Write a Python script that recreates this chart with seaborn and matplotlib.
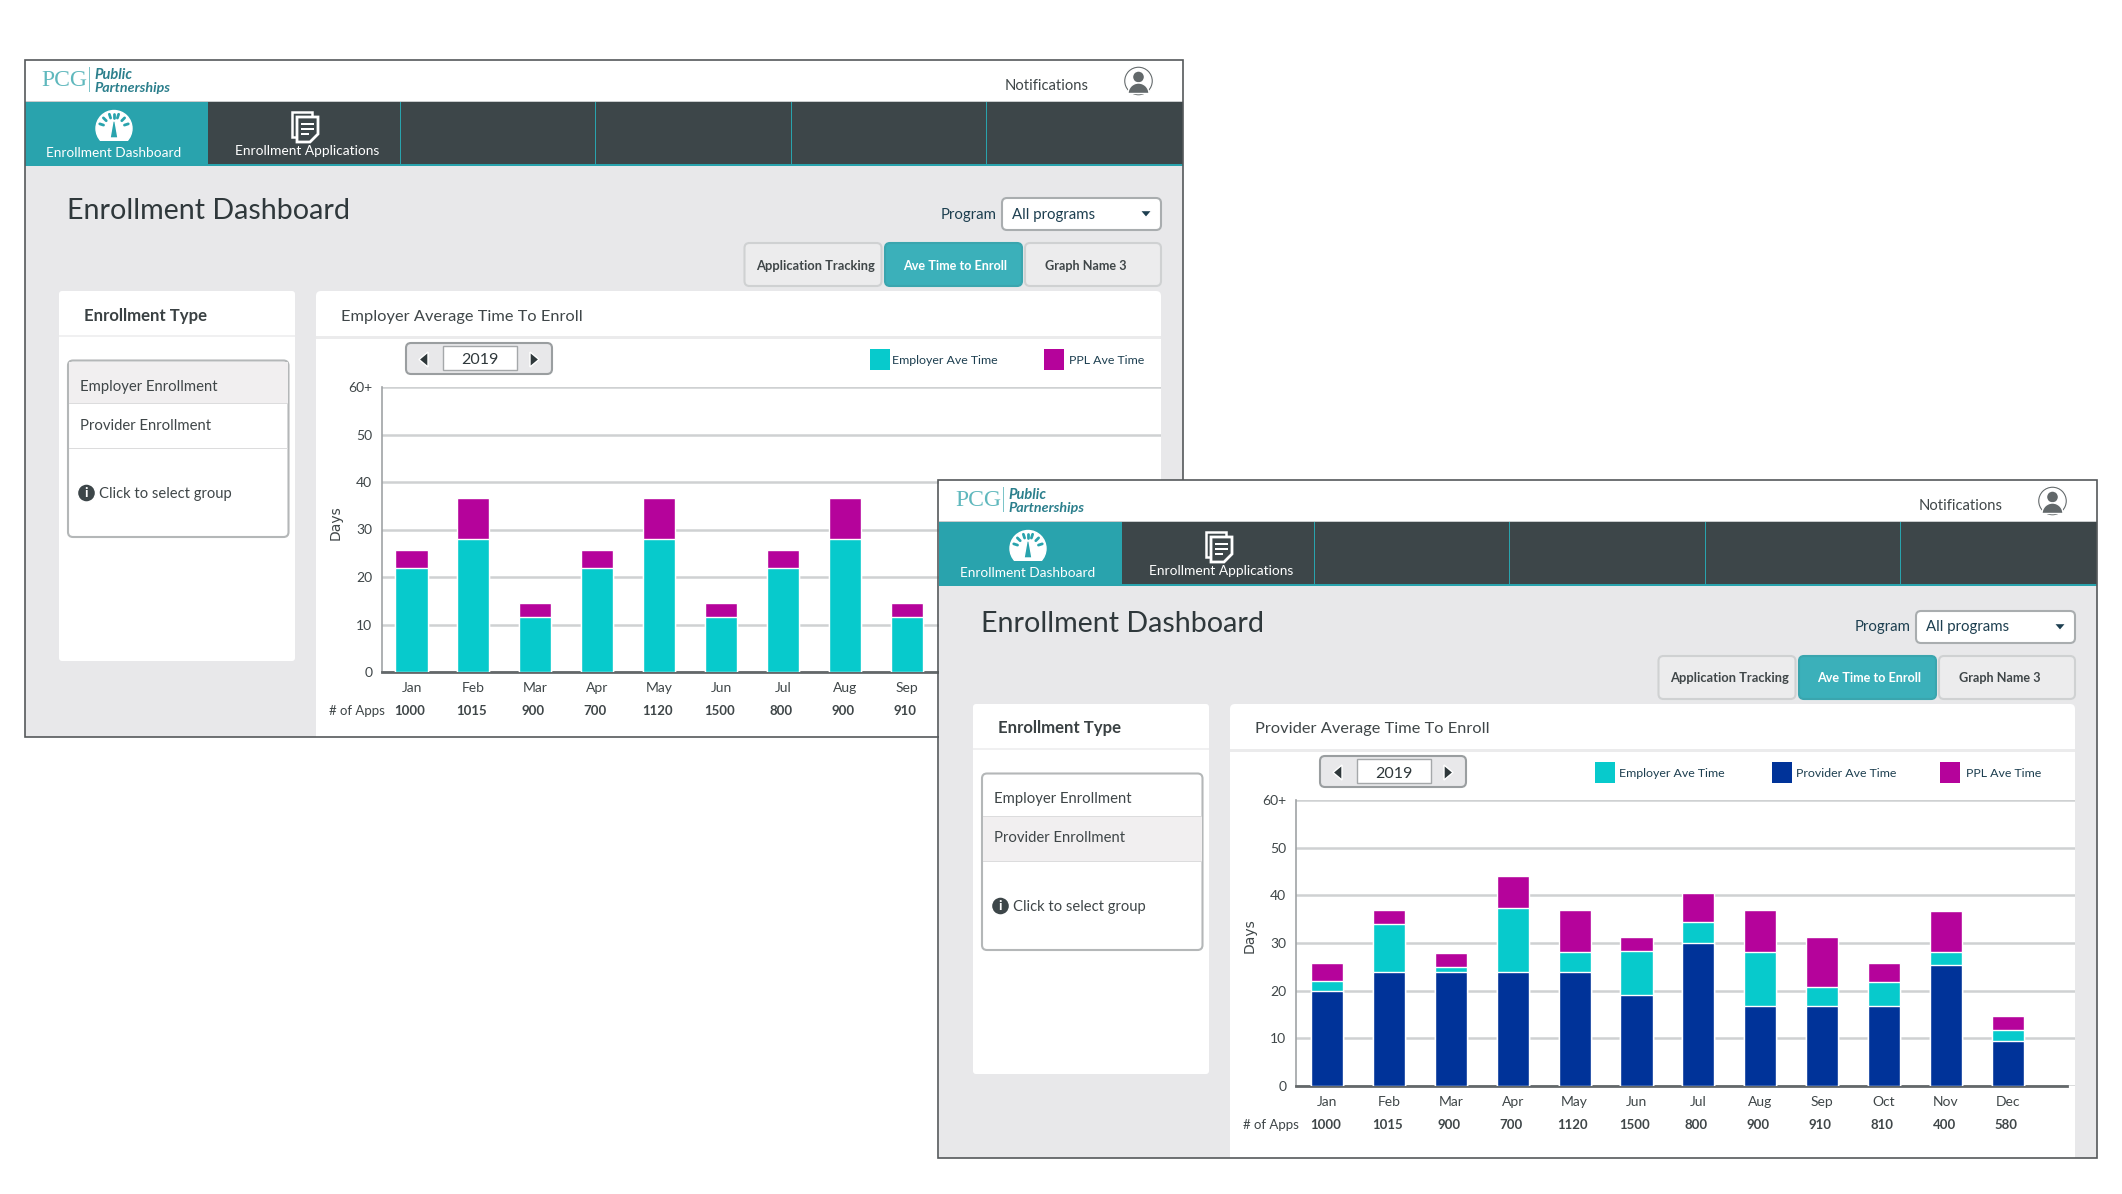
import numpy as np
import seaborn as sns
import matplotlib.pyplot as plt
from matplotlib.patches import Rectangle, FancyBboxPatch, Circle, Polygon, Wedge

W, H = 2122, 1194
FONT = 'Lato'
TEAL = '#29a3ad'
TAB_TEAL = '#3bb0ba'
DARK = '#3d4649'
BODY = '#e8e8ea'
TEXT = '#3f4648'
CYAN = '#07cacc'
NAVY = '#003399'
PURPLE = '#b5039b'

MONTHS = ['Jan', 'Feb', 'Mar', 'Apr', 'May', 'Jun', 'Jul', 'Aug', 'Sep', 'Oct', 'Nov', 'Dec']
APPS = [1000, 1015, 900, 700, 1120, 1500, 800, 900, 910, 810, 400, 580]

# first window, only Jan to Sep can be seen
EMP1_EMPLOYER = [21.8, 28.1, 11.6, 21.8, 28.1, 11.6, 21.8, 28.1, 11.6]
EMP1_PPL = [3.8, 8.6, 3.0, 3.8, 8.6, 3.0, 3.8, 8.6, 3.0]

# second window
PROV_PROVIDER = [20.0, 24.0, 24.0, 24.0, 24.0, 19.0, 30.0, 16.7, 16.7, 16.7, 25.4, 9.5]
PROV_EMPLOYER = [2.0, 10.0, 1.0, 13.4, 4.1, 9.4, 4.4, 11.4, 4.0, 5.2, 2.7, 2.2]
PROV_PPL = [3.7, 3.0, 3.0, 6.7, 8.8, 2.9, 6.0, 8.8, 10.6, 3.8, 8.7, 3.0]

YTICKS = [0, 10, 20, 30, 40, 50, 60]
YLABELS = ['0', '10', '20', '30', '40', '50', '60+']


def px_axes(fig, z):
    ax = fig.add_axes([0, 0, 1, 1])
    ax.set_xlim(0, W)
    ax.set_ylim(H, 0)
    ax.axis('off')
    ax.set_zorder(z)
    return ax


def rect(ax, x0, y0, x1, y1, fc, ec='none', lw=0):
    ax.add_patch(Rectangle((x0, y0), x1 - x0, y1 - y0, fc=fc, ec=ec, lw=lw))


def rrect(ax, x0, y0, x1, y1, fc, ec='none', lw=0, r=5):
    ax.add_patch(FancyBboxPatch((x0 + r, y0 + r), x1 - x0 - 2 * r, y1 - y0 - 2 * r,
                                boxstyle=f'round,pad={r},rounding_size={r}',
                                fc=fc, ec=ec, lw=lw))


def txt(ax, x, y, s, size=10, color=TEXT, ha='left', **kw):
    ax.text(x, y, s, fontsize=size, color=color, ha=ha, va='center', family=FONT, **kw)


def draw_icons(ax, dx, h):
    # avatar
    ax.add_patch(Circle((1138.5 + dx, 81 + h), 15, fc='#62686a'))
    ax.add_patch(Circle((1138.5 + dx, 81 + h), 12.5, fc='white'))
    ax.add_patch(Circle((1138.5 + dx, 77 + h), 6, fc='#62686a'))
    # y axis runs downward here, so 180-360 is the upper half
    ax.add_patch(Wedge((1138.5 + dx, 93.5 + h), 10.5, 180, 360, fc='#62686a'))
    # gauge
    ax.add_patch(Circle((114 + dx, 128.5 + h), 18, fc='white'))
    rect(ax, 95 + dx, 141 + h, 133 + dx, 148 + h, TEAL)
    ax.add_patch(Polygon([(113 + dx, 121 + h), (115 + dx, 121 + h), (118 + dx, 138 + h),
                          (110 + dx, 138 + h)], fc=TEAL))
    for a in np.radians([18, 45, 72, 90, 108, 135, 162]):
        ax.plot([114 + dx + 11 * np.cos(a), 114 + dx + 15 * np.cos(a)],
                [128.5 + h - 11 * np.sin(a), 128.5 + h - 15 * np.sin(a)], color=TEAL, lw=2)
    # document
    rect(ax, 292 + dx, 112 + h, 312 + dx, 137 + h, DARK, 'white', 1.8)
    ax.add_patch(Polygon([(297 + dx, 117 + h), (318 + dx, 117 + h), (318 + dx, 134 + h),
                          (310 + dx, 142 + h), (297 + dx, 142 + h)], fc=DARK, ec='white', lw=2))
    for ly, lx in [(123, 314), (128, 314), (133, 309)]:
        rect(ax, 301 + dx, ly + h, lx + dx, ly + 1.6 + h, 'white')


def draw_window(ax, dx, top, bottom, dy, selected, title, legend):
    x0, x1 = 24.5 + dx, 1183 + dx
    # white base, header band and nav
    rect(ax, x0, top, x1, bottom, 'white')
    h = top - 60
    rect(ax, x0, 101.5 + h, x1, 165 + h, DARK)
    rect(ax, x0, 101.5 + h, 208 + dx, 165 + h, TEAL)
    rect(ax, x0, 164 + h, x1, 166 + h, TEAL)
    rect(ax, x0, 100.5 + h, x1, 102 + h, '#c9cccd')
    for sx in [400, 595, 791, 986]:
        rect(ax, sx + dx, 101.5 + h, sx + dx + 1, 165 + h, TEAL)
    rect(ax, x0, 166 + h, x1, bottom, BODY)

    # logo
    ax.text(41 + dx, 81 + h, 'PCG', fontsize=17, color='#5fb8bd', family='Liberation Serif', va='center')
    rect(ax, 89.2 + dx, 67 + h, 90.2 + dx, 92 + h, '#7cc4c9')
    txt(ax, 94 + dx, 75 + h, 'Public', 10.5, '#2b7f8c', style='italic', weight='bold')
    txt(ax, 94 + dx, 88 + h, 'Partnerships', 10.3, '#2b7f8c', style='italic', weight='bold')
    txt(ax, 1005 + dx, 85.5 + h, 'Notifications', 10.6)

    draw_icons(ax, dx, h)
    txt(ax, 113.5 + dx, 153 + h, 'Enrollment Dashboard', 9.8, 'white', ha='center')
    txt(ax, 307.5 + dx, 151 + h, 'Enrollment Applications', 9.9, 'white', ha='center')

    # page heading, program selector, tabs
    txt(ax, 67 + dx, 211 + dy, 'Enrollment Dashboard', 20.6, '#2f383b')
    txt(ax, 941 + dx, 214.5 + dy, 'Program', 10.8, '#1d3f50')
    rrect(ax, 1002 + dx, 198 + dy, 1161 + dx, 230 + dy, 'white', '#a9adaf', 1.5)
    txt(ax, 1012 + dx, 214.5 + dy, 'All programs', 10.8, '#1d3f50')
    ax.add_patch(Polygon([(1140 + dx, 210.5 + dy), (1152 + dx, 210.5 + dy), (1146 + dx, 217.5 + dy)], fc='#1d3f50'))
    rrect(ax, 744.5 + dx, 243 + dy, 881.5 + dx, 286 + dy, '#ececed', '#cfd1d2', 1.5)
    rrect(ax, 885 + dx, 243 + dy, 1022 + dx, 286 + dy, TAB_TEAL, '#3aa5ae', 1.5)
    rrect(ax, 1025 + dx, 243 + dy, 1161 + dx, 286 + dy, '#ececed', '#cfd1d2', 1.5)
    txt(ax, 816 + dx, 265.5 + dy, 'Application Tracking', 9.3, ha='center', weight='bold')
    txt(ax, 955 + dx, 265.5 + dy, 'Ave Time to Enroll', 9.1, 'white', ha='center', weight='bold')
    txt(ax, 1086 + dx, 265.5 + dy, 'Graph Name 3', 9.1, ha='center', weight='bold')

    # left panel
    rrect(ax, 59 + dx, 291 + dy, 295 + dx, 661 + dy, 'white', r=3)
    rect(ax, 59 + dx, 335 + dy, 295 + dx, 337 + dy, '#f0f0f1')
    txt(ax, 84 + dx, 315.5 + dy, 'Enrollment Type', 12.1, '#3a4143', weight='bold')
    rrect(ax, 68 + dx, 360.5 + dy, 288.5 + dx, 537 + dy, 'white', '#b4b7b8', 1.5)
    row = (361.5, 403.5) if selected == 0 else (403.5, 448.5)
    rect(ax, 69 + dx, row[0] + dy, 287.5 + dx, row[1] + dy, '#f1eff0')
    rect(ax, 69 + dx, 403 + dy, 287.5 + dx, 404 + dy, '#dcdcdd')
    rect(ax, 69 + dx, 448 + dy, 287.5 + dx, 449 + dy, '#dcdcdd')
    txt(ax, 80 + dx, 386.5 + dy, 'Employer Enrollment', 10.7)
    txt(ax, 80 + dx, 425.5 + dy, 'Provider Enrollment', 10.7)
    ax.add_patch(Circle((86.5 + dx, 493 + dy), 9, fc=DARK))
    txt(ax, 86.5 + dx, 493 + dy, 'i', 10, 'white', ha='center', weight='bold')
    txt(ax, 99 + dx, 494 + dy, 'Click to select group', 10.6)

    # chart panel
    rrect(ax, 316 + dx, 291 + dy, 1161 + dx, bottom + 6, 'white', r=5)
    rect(ax, 316 + dx, 336 + dy, 1161 + dx, 339 + dy, '#ebebec')
    txt(ax, 341 + dx, 316.5 + dy, title, 11.8)
    rrect(ax, 406 + dx, 343 + dy, 552 + dx, 374 + dy, BODY, '#9a9ea0', 1.5)
    rect(ax, 443 + dx, 346 + dy, 516.5 + dx, 370 + dy, 'white', '#a5a8aa', 1)
    txt(ax, 480 + dx, 360.5 + dy, '2019', 11.5, '#2f383b', ha='center')
    ax.add_patch(Polygon([(428 + dx, 352 + dy), (428 + dx, 367 + dy), (419 + dx, 359.5 + dy)], fc='#2f383b'))
    ax.add_patch(Polygon([(530 + dx, 352 + dy), (530 + dx, 367 + dy), (539 + dx, 359.5 + dy)], fc='#2f383b'))
    for lx, tx, color, label in legend:
        rect(ax, lx, 349 + dy, lx + 20, 370 + dy, color)
        txt(ax, tx, 360.5 + dy, label, 8.9, '#1d3f50')


def draw_chart(fig, left, right, y60, y0, jan_x, end_x, z, months, apps, series):
    step = 61.9
    ax = fig.add_axes([left / W, 1 - y0 / H, (right - left) / W, (y0 - y60) / H])
    ax.set_zorder(z)
    ax.patch.set_alpha(0)
    # stacked look: cumulative bars, tallest first so each one shows its own band
    tops = np.cumsum([vals for vals, _ in series], axis=0)
    for top, (_, color) in zip(tops[::-1], series[::-1]):
        sns.barplot(x=months, y=top, color=color, saturation=1, width=0.52, ax=ax, zorder=3)
    ax.set_xlim((left - jan_x) / step, (right - jan_x) / step)
    ax.set_ylim(0, 60)
    ax.set_yticks(YTICKS, YLABELS, fontsize=10, color=TEXT, family=FONT)
    ax.set_xticks(range(len(months)), months, fontsize=10, color=TEXT, family=FONT)
    ax.tick_params(axis='both', length=0)
    ax.tick_params(axis='x', pad=7.5)
    ax.tick_params(axis='y', pad=7)
    ax.grid(axis='y', color='#cfd1d2', lw=1.8)
    ax.set_axisbelow(True)
    sns.despine(ax=ax, top=True, right=True)
    ax.spines['left'].set_color('#9fa3a5')
    ax.spines['left'].set_linewidth(1.2)
    ax.spines['bottom'].set_color('#63686a')
    ax.spines['bottom'].set_linewidth(2)
    ax.spines['bottom'].set_bounds((left - jan_x) / step, (end_x - jan_x) / step)
    ax.set_ylabel('Days', fontsize=10, color=TEXT, family='DejaVu Sans', labelpad=4, y=0.525)
    for i, n in enumerate(apps):
        ax.annotate(str(n), (i - 0.03, 0), xytext=(0, -28.2), textcoords='offset points',
                    ha='center', va='center', fontsize=9.5, color=TEXT, family=FONT,
                    weight='bold', annotation_clip=False)
    ax.annotate('# of Apps', (0, 0), xycoords='axes fraction', xytext=(-38, -28.2),
                textcoords='offset points', ha='left', va='center', fontsize=9.5,
                color=TEXT, family=FONT, annotation_clip=False)
    return ax


sns.set_theme(style='white')
plt.rcParams['font.family'] = [FONT, 'DejaVu Sans']

fig = plt.figure(figsize=(W / 100, H / 100), dpi=100, facecolor='white')

back = px_axes(fig, 0)
draw_window(back, 0, 60, 737, 0, 0, 'Employer Average Time To Enroll',
            [(870, 892, CYAN, 'Employer Ave Time'), (1044, 1069, PURPLE, 'PPL Ave Time')])
rect(back, 24.5, 60, 1183, 737, 'none', '#55595b', 1.2)
draw_chart(fig, 382, 1161, 387, 672, 411.5, 1161, 1, MONTHS[:9], APPS[:9],
           [(EMP1_EMPLOYER, CYAN), (EMP1_PPL, PURPLE)])

front = px_axes(fig, 2)
draw_window(front, 914, 480, 1158, 413, 1, 'Provider Average Time To Enroll',
            [(1595, 1619, CYAN, 'Employer Ave Time'), (1772, 1796, NAVY, 'Provider Ave Time'),
             (1940, 1966, PURPLE, 'PPL Ave Time')])
rect(front, 938, 480, 2097, 1158, 'none', '#55595b', 1.2)
draw_chart(fig, 1296, 2075, 800, 1086, 1327, 2067, 3, MONTHS, APPS,
           [(PROV_PROVIDER, NAVY), (PROV_EMPLOYER, CYAN), (PROV_PPL, PURPLE)])

fig.savefig('out.png', dpi=100)
